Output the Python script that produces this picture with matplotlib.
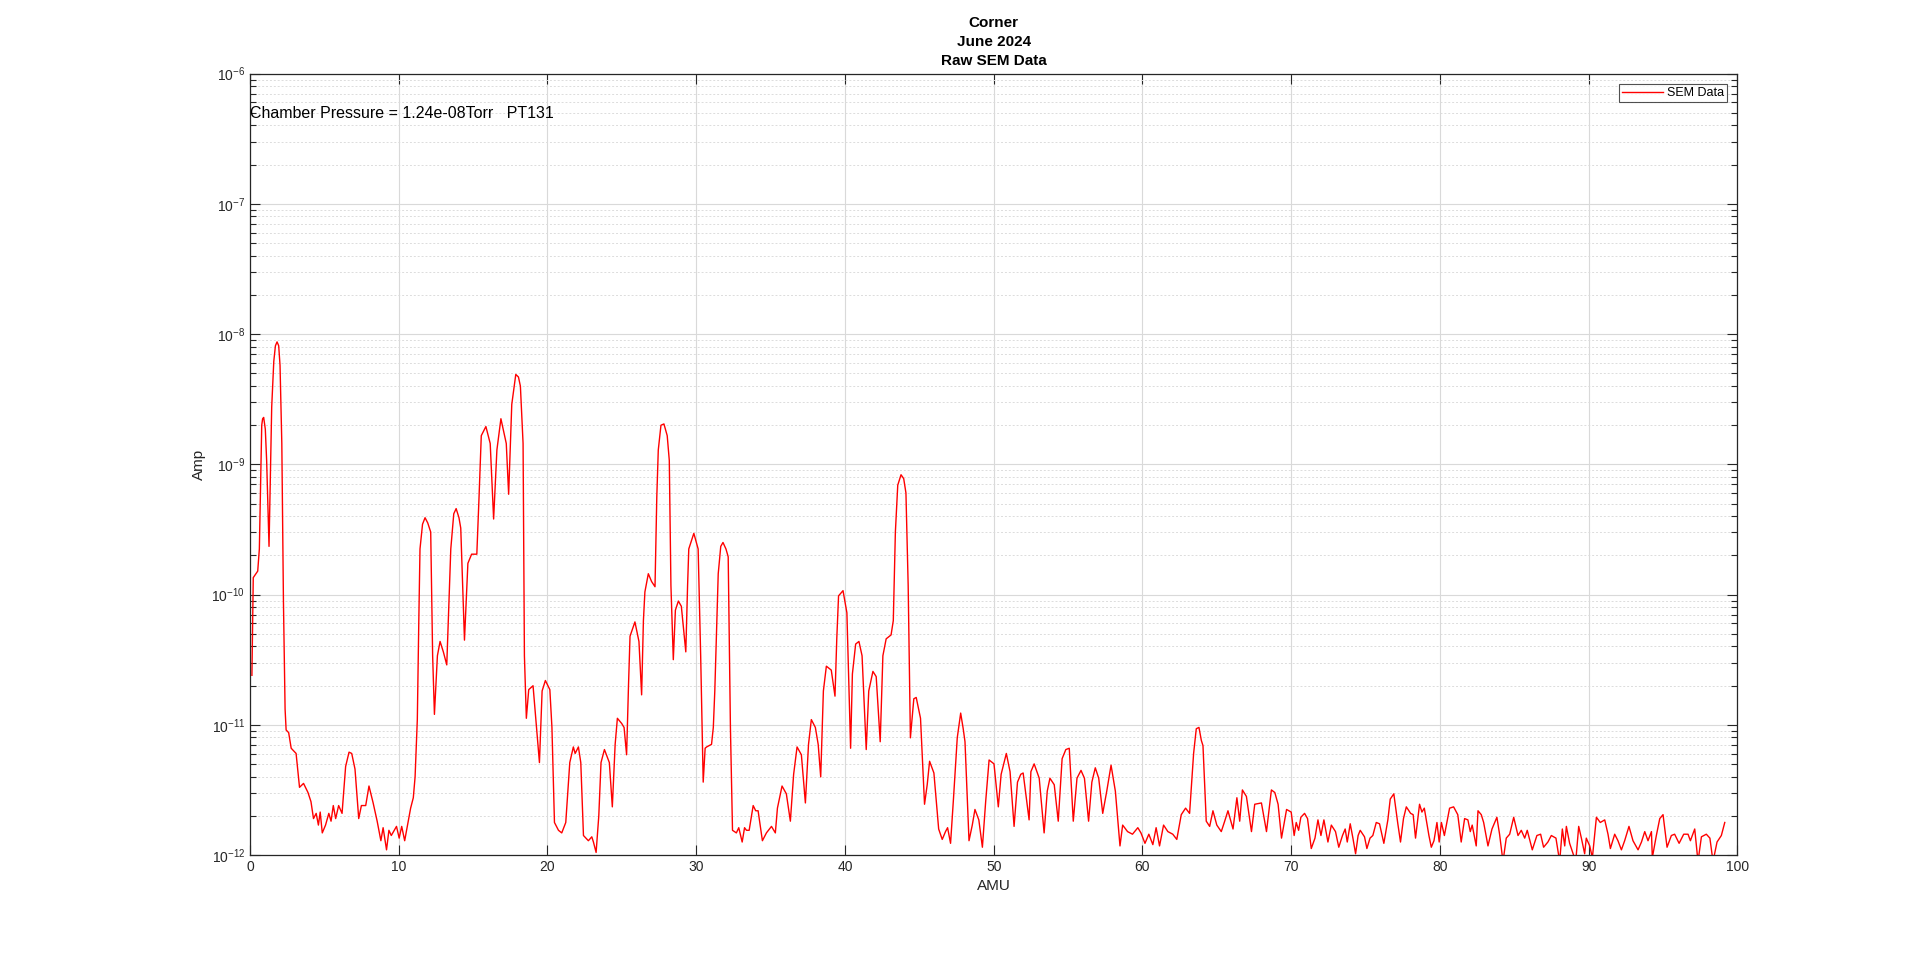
import numpy as np
import matplotlib
matplotlib.use('Agg')
import matplotlib.pyplot as plt
from matplotlib.ticker import LogLocator, FixedLocator

plt.rcParams['font.family'] = ['Liberation Sans', 'DejaVu Sans']
plt.rcParams['mathtext.fontset'] = 'custom'
plt.rcParams['mathtext.rm'] = 'Liberation Sans'
plt.rcParams['mathtext.it'] = 'Liberation Sans:italic'

# datos: masa (AMU) y exponente log10 de la corriente (A)
amu = [0.13, 0.22, 0.52, 0.63, 0.79, 0.85, 0.92, 1.03, 1.12, 1.28, 1.37, 1.46, 1.6, 1.71, 1.82, 1.93, 2.02,
       2.14, 2.25, 2.36, 2.43, 2.6, 2.77, 3.1, 3.33, 3.6, 3.9, 4.1, 4.27, 4.45, 4.6, 4.72, 4.86, 5.08, 5.3,
       5.45, 5.6, 5.76, 5.96, 6.19, 6.43, 6.66, 6.84, 7.06, 7.31, 7.49, 7.78, 8.0, 8.28, 8.55, 8.8, 8.95,
       9.18, 9.34, 9.5, 9.85, 10.03, 10.2, 10.4, 10.64, 10.8, 10.98, 11.1, 11.25, 11.35, 11.43, 11.6, 11.77,
       11.95, 12.15, 12.28, 12.4, 12.6, 12.78, 13.0, 13.23, 13.5, 13.7, 13.86, 14.05, 14.17, 14.42, 14.65,
       14.9, 15.25, 15.4, 15.55, 15.86, 16.15, 16.38, 16.6, 16.87, 17.23, 17.39, 17.6, 17.87, 18.05, 18.18,
       18.36, 18.45, 18.58, 18.74, 19.03, 19.26, 19.46, 19.64, 19.86, 20.16, 20.3, 20.47,
       20.74, 20.96, 21.23, 21.5, 21.74, 21.86, 22.08, 22.24, 22.42, 22.75, 22.98, 23.09, 23.27, 23.45,
       23.6, 23.83, 24.16, 24.36, 24.55, 24.7, 24.99, 25.15, 25.32, 25.45, 25.55, 25.88, 26.15, 26.33,
       26.45, 26.55, 26.78, 27.0, 27.23, 27.35, 27.45, 27.63, 27.83, 28.05, 28.19, 28.3, 28.46, 28.6, 28.8,
       29.0, 29.3, 29.42, 29.5, 29.84, 30.13, 30.3, 30.47, 30.6, 30.7, 31.03, 31.15, 31.25, 31.48, 31.65,
       31.8, 32.0, 32.15, 32.3, 32.44, 32.7, 32.86, 33.09, 33.25, 33.38, 33.56, 33.83, 34.0, 34.16, 34.45,
       34.72, 35.06, 35.32, 35.46, 35.77, 36.06, 36.33, 36.55, 36.78, 37.07, 37.34, 37.55, 37.74, 38.01,
       38.2, 38.37, 38.55, 38.75, 39.08, 39.33, 39.45, 39.57, 39.87, 40.13, 40.38, 40.5, 40.72, 40.94,
       41.15, 41.43, 41.6, 41.88, 42.1, 42.37, 42.55, 42.77, 43.1, 43.25, 43.39, 43.55, 43.77, 43.95, 44.1,
       44.25, 44.4, 44.63, 44.79, 45.08, 45.35, 45.53, 45.69, 45.98, 46.3, 46.54, 46.76, 46.9, 47.1, 47.3,
       47.55, 47.78, 47.95, 48.07, 48.34, 48.56, 48.74, 49.0, 49.24, 49.46, 49.69, 50.02, 50.31, 50.5,
       50.85, 51.1, 51.37, 51.6, 51.82, 51.98, 52.38, 52.5, 52.72, 53.06, 53.39, 53.6, 53.78, 54.07, 54.34,
       54.6, 54.85, 55.08, 55.35, 55.6, 55.87, 56.1, 56.38, 56.6, 56.83, 57.06, 57.33, 57.6, 57.89, 58.18,
       58.49, 58.67, 59.0, 59.33, 59.69, 59.9, 60.17, 60.43, 60.7, 60.92, 61.15, 61.42, 61.71, 62.04,
       62.31, 62.61, 62.9, 63.17, 63.44, 63.62, 63.8, 63.96, 64.07, 64.29, 64.52, 64.74, 65.0, 65.3, 65.53,
       65.75, 66.09, 66.35, 66.54, 66.72, 66.99, 67.33, 67.55, 68.0, 68.34, 68.67, 68.9, 69.12, 69.35,
       69.69, 70.0, 70.2, 70.34, 70.5, 70.65, 70.9, 71.1, 71.35, 71.6, 71.8, 72.0, 72.2, 72.47, 72.7,
       72.98, 73.2, 73.45, 73.63, 73.77, 73.97, 74.15, 74.33, 74.5, 74.64, 74.93, 75.09, 75.3, 75.49,
       75.72, 75.94, 76.23, 76.5, 76.66, 76.9, 77.17, 77.35, 77.55, 77.74, 78.03, 78.2, 78.36, 78.63,
       78.79, 78.95, 79.26, 79.42, 79.6, 79.8, 79.95, 80.1, 80.3, 80.65, 80.92, 81.2, 81.43, 81.66, 81.88,
       82.04, 82.17, 82.44, 82.56, 82.78, 82.94, 83.23, 83.5, 83.83, 84.01, 84.24, 84.46, 84.69, 84.96,
       85.25, 85.47, 85.7, 85.87, 86.21, 86.52, 86.77, 86.97, 87.26, 87.49, 87.8, 88.05, 88.23, 88.39,
       88.5, 88.72, 89.13, 89.33, 89.51, 89.73, 89.84, 90.07, 90.25, 90.52, 90.78, 91.08, 91.3, 91.46,
       91.75, 91.97, 92.2, 92.42, 92.71, 92.98, 93.32, 93.55, 93.77, 93.99, 94.22, 94.28, 94.55, 94.78,
       95.0, 95.27, 95.56, 95.78, 96.08, 96.39, 96.68, 96.84, 97.13, 97.35, 97.58, 97.91, 98.15, 98.36,
       98.63, 98.92, 99.15]

log_amp = [-10.62, -9.87, -9.82, -9.65, -8.70, -8.65, -8.64, -8.73, -8.97, -9.63, -9.11, -8.56, -8.21, -8.09,
           -8.06, -8.09, -8.24, -8.84, -10.06, -10.88, -11.04, -11.06, -11.18, -11.22, -11.48, -11.45, -11.52,
           -11.59, -11.72, -11.68, -11.77, -11.67, -11.83, -11.77, -11.68, -11.74, -11.62, -11.72, -11.62,
           -11.68, -11.32, -11.21, -11.22, -11.34, -11.72, -11.62, -11.62, -11.47, -11.60, -11.74, -11.89,
           -11.79, -11.96, -11.81, -11.85, -11.78, -11.87, -11.78, -11.89, -11.74, -11.64, -11.56, -11.40,
           -10.96, -10.20, -9.65, -9.46, -9.41, -9.45, -9.52, -10.47, -10.92, -10.47, -10.36, -10.44, -10.54,
           -9.65, -9.38, -9.34, -9.41, -9.49, -10.35, -9.76, -9.69, -9.69, -9.25, -8.78, -8.71, -8.84, -9.42,
           -8.89, -8.65, -8.84, -9.23, -8.54, -8.31, -8.33, -8.40, -8.84, -10.47, -10.95, -10.73, -10.70,
           -11.02, -11.29, -10.74, -10.66, -10.73, -11.02, -11.75,
           -11.81, -11.83, -11.75, -11.29, -11.17, -11.22, -11.17, -11.29, -11.85, -11.89, -11.86, -11.90,
           -11.98, -11.70, -11.29, -11.19, -11.29, -11.63, -11.15, -10.95, -10.99, -11.02, -11.23, -10.69,
           -10.32, -10.21, -10.36, -10.77, -10.20, -9.98, -9.84, -9.90, -9.94, -9.25, -8.89, -8.70, -8.69,
           -8.78, -8.97, -9.93, -10.50, -10.12, -10.05, -10.09, -10.44, -9.93, -9.65, -9.53, -9.65, -10.47,
           -11.44, -11.18, -11.17, -11.15, -11.02, -10.74, -9.84, -9.63, -9.60, -9.65, -9.71, -11.02, -11.81,
           -11.83, -11.79, -11.90, -11.79, -11.81, -11.81, -11.62, -11.66, -11.66, -11.89, -11.83, -11.78,
           -11.83, -11.64, -11.47, -11.53, -11.74, -11.38, -11.17, -11.23, -11.60, -11.15, -10.96, -11.02,
           -11.15, -11.40, -10.74, -10.55, -10.58, -10.78, -10.34, -10.01, -9.97, -10.14, -11.18, -10.61,
           -10.38, -10.36, -10.47, -11.19, -10.74, -10.59, -10.63, -11.13, -10.47, -10.34, -10.31, -10.20,
           -9.52, -9.16, -9.08, -9.11, -9.22, -9.93, -11.10, -10.80, -10.79, -10.95, -11.61, -11.46, -11.28,
           -11.37, -11.80, -11.88, -11.82, -11.79, -11.91, -11.56, -11.10, -10.91, -11.03, -11.13, -11.89,
           -11.77, -11.65, -11.73, -11.94, -11.59, -11.27, -11.30, -11.63, -11.38, -11.22, -11.36, -11.78,
           -11.44, -11.38, -11.37, -11.73, -11.36, -11.30, -11.41, -11.83, -11.51, -11.41, -11.46, -11.74,
           -11.26, -11.19, -11.18, -11.74, -11.41, -11.35, -11.41, -11.74, -11.44, -11.33, -11.41, -11.68,
           -11.51, -11.31, -11.51, -11.93, -11.77, -11.82, -11.84, -11.79, -11.83, -11.91, -11.84, -11.92,
           -11.79, -11.93, -11.77, -11.82, -11.84, -11.88, -11.69, -11.64, -11.68, -11.22, -11.03, -11.02,
           -11.12, -11.16, -11.74, -11.78, -11.66, -11.77, -11.82, -11.74, -11.66, -11.80, -11.56, -11.74,
           -11.50, -11.55, -11.82, -11.61, -11.60, -11.82, -11.50, -11.52, -11.61, -11.87, -11.65,
           -11.67, -11.85, -11.75, -11.81, -11.71, -11.68, -11.72, -11.95, -11.87, -11.73, -11.85, -11.73,
           -11.90, -11.77, -11.82, -11.94, -11.85, -11.80, -11.90, -11.76, -11.87, -11.99, -11.85, -11.81,
           -11.86, -11.95, -11.87, -11.85, -11.75, -11.76, -11.91, -11.73, -11.57, -11.53, -11.76, -11.90,
           -11.72, -11.63, -11.68, -11.69, -11.87, -11.61, -11.67, -11.64, -11.85, -11.94, -11.89, -11.75,
           -11.90, -11.75, -11.85, -11.64, -11.63, -11.69, -11.90, -11.72, -11.73, -11.82, -11.77, -11.93,
           -11.66, -11.69, -11.75, -11.93, -11.80, -11.71, -11.84, -12.05, -11.87, -11.84, -11.71, -11.85,
           -11.81, -11.87, -11.81, -11.96, -11.85, -11.84, -11.94, -11.90, -11.85, -11.87, -12.05, -11.80,
           -11.93, -11.78, -11.91, -12.05, -11.78, -11.87, -11.99, -11.87, -11.93, -12.02, -11.71, -11.75,
           -11.73, -11.84, -11.95, -11.84, -11.89, -11.96, -11.89, -11.78, -11.89, -11.96, -11.90, -11.82,
           -11.89, -11.82, -12.02, -11.85, -11.72, -11.69, -11.94, -11.85, -11.84, -11.91, -11.84, -11.84,
           -11.89, -11.80, -12.05, -11.86, -11.84, -11.87, -12.05, -11.90, -11.85, -11.75]

titulo = ['Corner', 'June 2024', 'Raw SEM Data']
texto_presion = 'Chamber Pressure = 1.24e-08Torr   PT131'

amp = 10.0 ** np.array(log_amp)
gris = '#262626'

fig = plt.figure(figsize=(19.2, 9.63), dpi=100)
ax = fig.add_axes([0.1302, 0.1121, 0.7747, 0.8115])

ax.plot(amu, amp, lw=1, color='red', label='SEM Data')
ax.set_yscale('log')
ax.set_xlim(0, 100)
ax.set_ylim(1e-12, 1e-6)

ax.xaxis.set_major_locator(FixedLocator(np.arange(0, 101, 10)))
ax.yaxis.set_major_locator(LogLocator(base=10, numticks=10))
ax.yaxis.set_minor_locator(LogLocator(base=10, subs=np.arange(2, 10), numticks=20))

# rejilla estilo matlab
ax.grid(True, which='major', color='#d9d9d9', lw=0.8, ls='-')
ax.grid(True, which='minor', axis='y', color='#dcdcdc', lw=0.7, ls=(0, (2, 2)))
ax.set_axisbelow(True)

ax.tick_params(which='both', direction='in', top=True, right=True, colors=gris, labelsize=10)
ax.tick_params(which='major', length=7, width=0.8)
ax.tick_params(which='minor', length=4, width=0.8)
for s in ax.spines.values():
    s.set_color(gris)
    s.set_linewidth(0.9)

ax.set_xlabel('AMU', fontsize=11, color=gris)
ax.set_ylabel('Amp', fontsize=11, color=gris)
ax.set_title('\n'.join(titulo), fontsize=11, fontweight='bold', color='black', pad=6, linespacing=1.45)

ax.text(0, 4.9e-7, texto_presion, fontsize=11.5, color='black', ha='left', va='center')

leg = ax.legend(loc='upper right', fontsize=9, frameon=True, fancybox=False,
                edgecolor=gris, handlelength=3.3, handletextpad=0.25, borderaxespad=0.85,
                borderpad=0.25)
leg.get_frame().set_linewidth(0.8)

fig.savefig('out.png', dpi=100, facecolor='white')
